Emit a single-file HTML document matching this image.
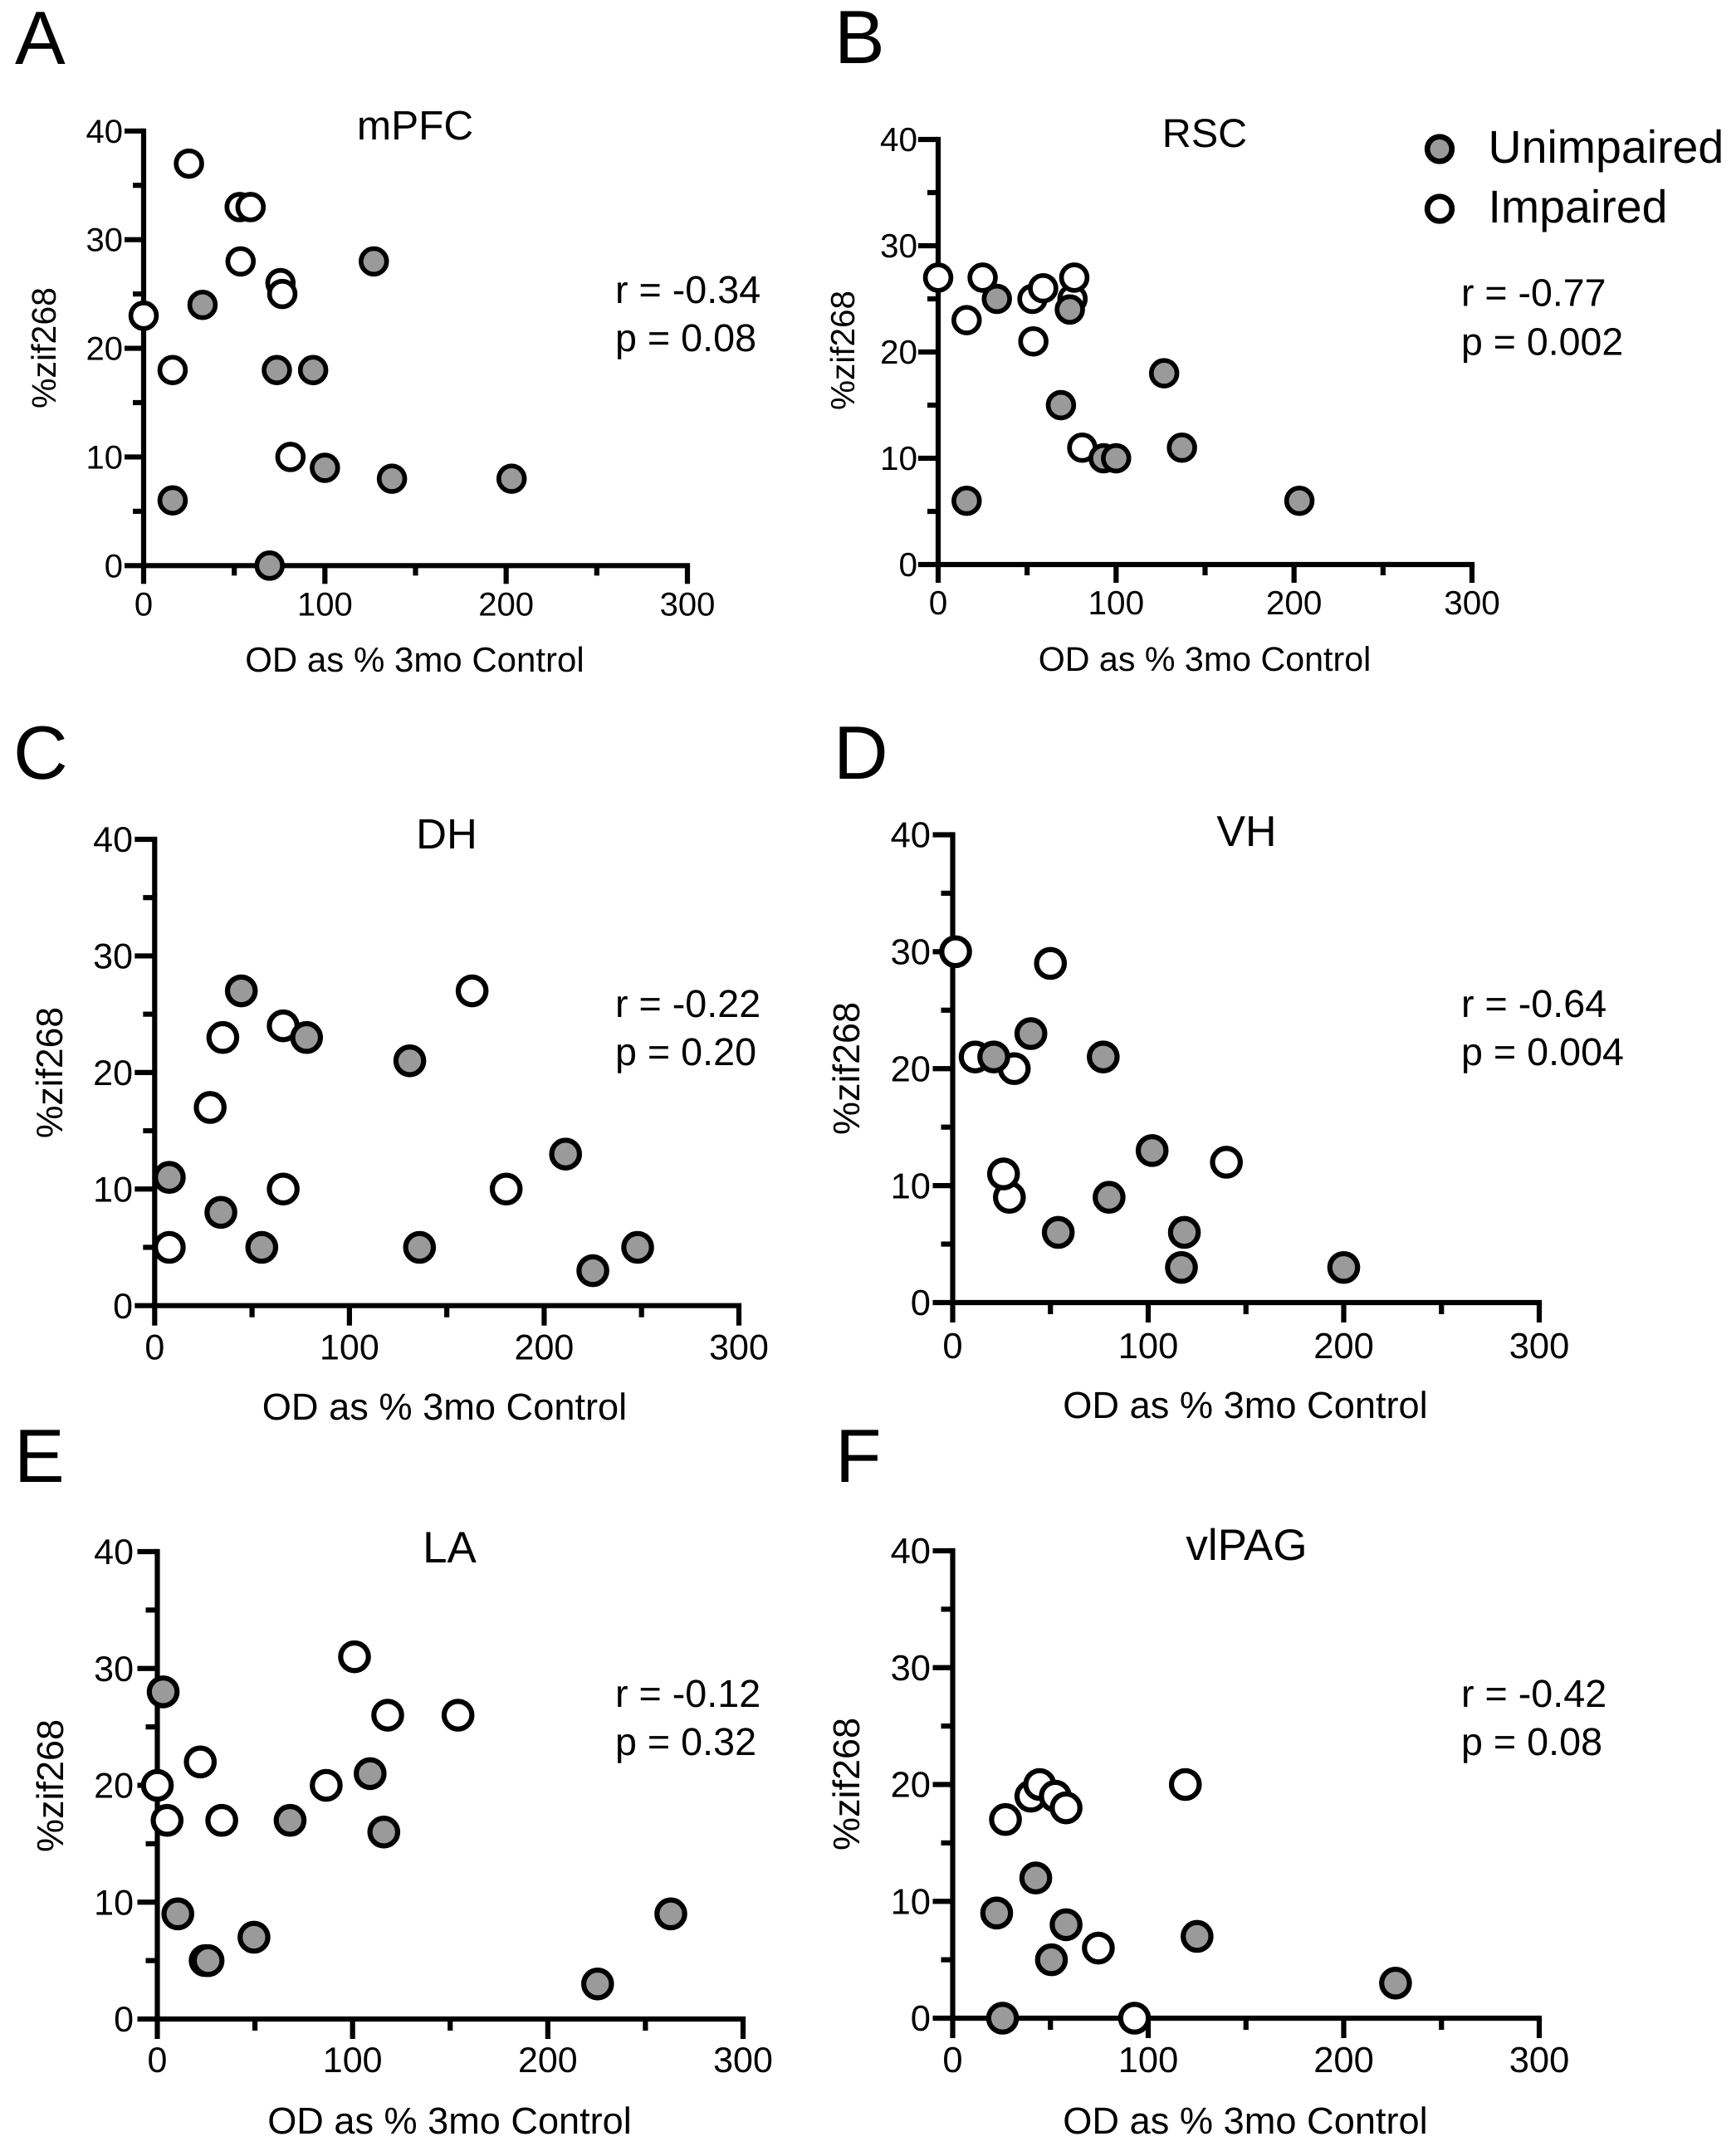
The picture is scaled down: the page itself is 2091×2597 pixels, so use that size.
<!DOCTYPE html>
<html lang="en">
<head>
<meta charset="utf-8">
<title>zif268 vs OD scatter panels</title>
<style>
html,body{margin:0;padding:0;background:#fff;}
svg{display:block;}
text{font-family:"Liberation Sans",Arial,sans-serif;fill:#000;text-rendering:geometricPrecision;}
</style>
</head>
<body>
<svg id="figure" xmlns="http://www.w3.org/2000/svg" width="2091" height="2597" viewBox="0 0 2091 2597">
<rect x="0" y="0" width="2091" height="2597" fill="#fff"/>

<g id="panel-a">
<text x="18" y="77" font-size="91">A</text>
<text x="500" y="168" font-size="49.5" text-anchor="middle">mPFC</text>
<text x="499.5" y="809" font-size="42" text-anchor="middle">OD as % 3mo Control</text>
<text transform="translate(67,419) rotate(-90)" font-size="41" text-anchor="middle">%zif268</text>
<text x="741" y="365" font-size="46.7">r = -0.34</text>
<text x="741" y="423" font-size="46.7">p = 0.08</text>
</g>

<g id="panel-b">
<text x="1005" y="76" font-size="91">B</text>
<text x="1451" y="177" font-size="48.5" text-anchor="middle">RSC</text>
<text x="1451" y="808" font-size="41.2" text-anchor="middle">OD as % 3mo Control</text>
<text transform="translate(1029,422) rotate(-90)" font-size="40.5" text-anchor="middle">%zif268</text>
<text x="1760" y="368.5" font-size="46.5">r = -0.77</text>
<text x="1760" y="427.5" font-size="46.5">p = 0.002</text>
</g>

<g id="panel-c">
<text x="16" y="938" font-size="91">C</text>
<text x="538" y="1022" font-size="51" text-anchor="middle">DH</text>
<text x="535.5" y="1710" font-size="45.2" text-anchor="middle">OD as % 3mo Control</text>
<text transform="translate(75,1292) rotate(-90)" font-size="44.5" text-anchor="middle">%zif268</text>
<text x="741" y="1225" font-size="46.7">r = -0.22</text>
<text x="741" y="1283" font-size="46.7">p = 0.20</text>
</g>

<g id="panel-d">
<text x="1004" y="938" font-size="91">D</text>
<text x="1501.5" y="1019" font-size="52" text-anchor="middle">VH</text>
<text x="1500" y="1708" font-size="45.2" text-anchor="middle">OD as % 3mo Control</text>
<text transform="translate(1035,1287) rotate(-90)" font-size="45" text-anchor="middle">%zif268</text>
<text x="1760" y="1225" font-size="46.7">r = -0.64</text>
<text x="1760" y="1283" font-size="46.7">p = 0.004</text>
</g>

<g id="panel-e">
<text x="17" y="1785" font-size="91">E</text>
<text x="541.5" y="1882" font-size="53" text-anchor="middle">LA</text>
<text x="541.5" y="2570" font-size="45.1" text-anchor="middle">OD as % 3mo Control</text>
<text transform="translate(76,2151) rotate(-90)" font-size="45" text-anchor="middle">%zif268</text>
<text x="741" y="2056" font-size="46.7">r = -0.12</text>
<text x="741" y="2114" font-size="46.7">p = 0.32</text>
</g>

<g id="panel-f">
<text x="1006" y="1785" font-size="91">F</text>
<text x="1501.5" y="1879" font-size="53" text-anchor="middle">vlPAG</text>
<text x="1500" y="2570" font-size="45.2" text-anchor="middle">OD as % 3mo Control</text>
<text transform="translate(1035,2149) rotate(-90)" font-size="45" text-anchor="middle">%zif268</text>
<text x="1760" y="2056" font-size="46.7">r = -0.42</text>
<text x="1760" y="2114" font-size="46.7">p = 0.08</text>
</g>

<g id="legend">
<circle cx="1734" cy="179.5" r="14.8" fill="#9a9a9a" stroke="#000" stroke-width="6.7"/>
<text x="1792.5" y="196" font-size="55.5">Unimpaired</text>
<circle cx="1734" cy="251.5" r="14.8" fill="#fff" stroke="#000" stroke-width="6.7"/>
<text x="1792.5" y="268" font-size="55.5">Impaired</text>
</g>
</svg>

<script>
// Axis values shared by all panels
const xMajorTicks = [0, 100, 200, 300];
const xMinorTicks = [50, 150, 250];
const yMajorTicks = [0, 10, 20, 30, 40];
const yMinorTicks = [5, 15, 25, 35];
const xMax = 300;
const yMax = 40;

// Panel A: mPFC
const mpfcUnimpairedX = [16, 32.5, 69.5, 73.5, 93.5, 100, 127, 137, 203];
const mpfcUnimpairedY = [6, 24, 0, 18, 18, 9, 28, 8, 8];
const mpfcImpairedX = [0, 16, 25, 53, 59, 53.5, 75.5, 76.5, 81];
const mpfcImpairedY = [23, 18, 37, 33, 33, 28, 26, 25, 10];

// Panel B: RSC
const rscUnimpairedX = [16, 33, 74, 69, 127, 137, 93, 100, 203];
const rscUnimpairedY = [6, 25, 24, 15, 18, 11, 10, 10, 6];
const rscImpairedX = [0, 25, 16, 53, 59, 53.5, 75.5, 76.5, 81];
const rscImpairedY = [27, 27, 23, 25, 26, 21, 25, 27, 11];

// Panel C: DH
const dhUnimpairedX = [7.5, 34, 55, 44.5, 78, 131, 136, 211, 225, 248];
const dhUnimpairedY = [11, 8, 5, 27, 23, 21, 5, 13, 3, 5];
const dhImpairedX = [7.5, 28.5, 35, 66, 66, 163, 180.5];
const dhImpairedY = [5, 17, 23, 24, 10, 27, 10];

// Panel D: VH
const vhUnimpairedX = [21, 40, 77, 54, 80, 102, 118.5, 117, 200];
const vhUnimpairedY = [21, 23, 21, 6, 9, 13, 6, 3, 3];
const vhImpairedX = [1.5, 11.5, 31.5, 50, 29, 26, 140];
const vhImpairedY = [30, 21, 20, 29, 9, 11, 12];

// Panel E: LA
const laUnimpairedX = [3, 10.5, 24.5, 26, 49.5, 68, 109, 116, 225.5, 263];
const laUnimpairedY = [28, 9, 5, 5, 7, 17, 21, 16, 3, 9];
const laImpairedX = [0, 5, 22, 33, 86.5, 101, 118, 154];
const laImpairedY = [20, 17, 22, 17, 20, 31, 26, 26];

// Panel F: vlPAG
const vlpagUnimpairedX = [22.5, 25.5, 42.5, 50.5, 58, 125, 226.5];
const vlpagUnimpairedY = [9, 0, 12, 5, 8, 7, 3];
const vlpagImpairedX = [27, 40, 44.5, 52.5, 58, 74.5, 93, 119];
const vlpagImpairedY = [17, 19, 20, 19, 18, 6, 0, 20];

const SVG_NS = 'http://www.w3.org/2000/svg';

function mk(parent, tag, attrs) {
  const el = document.createElementNS(SVG_NS, tag);
  Object.keys(attrs).forEach(function (k) { el.setAttribute(k, attrs[k]); });
  parent.appendChild(el);
  return el;
}

function drawPanel(p) {
  const root = document.getElementById(p.id);
  const sx = function (v) { return p.x0 + (v / xMax) * (p.x1 - p.x0); };
  const sy = function (v) { return p.y0 + (v / yMax) * (p.y1 - p.y0); };

  const axes = mk(root, 'g', { stroke: '#000', 'stroke-width': p.sw, 'stroke-linecap': 'square', fill: 'none' });
  
  

  const xAxis = mk(axes, 'line', { x1: p.x0, y1: p.y0, x2: p.x1, y2: p.y0 });
  
  

  const yAxis = mk(axes, 'line', { x1: p.x0, y1: p.y0, x2: p.x0, y2: p.y1 });
  
  

  xMajorTicks.forEach(function (v) {
    const t = mk(axes, 'line', { x1: sx(v), y1: p.y0, x2: sx(v), y2: p.y0 + p.xMajor, 'stroke-linecap': 'butt' });
    
    
    const lab = mk(root, 'text', { x: sx(v), y: p.y0 + p.xLabelDy, 'font-size': p.fs, 'text-anchor': 'middle' });
    lab.textContent = String(v);
    
    
  });

  xMinorTicks.forEach(function (v) {
    const t = mk(axes, 'line', { x1: sx(v), y1: p.y0, x2: sx(v), y2: p.y0 + p.xMinor, 'stroke-linecap': 'butt' });
    
    
  });

  yMajorTicks.forEach(function (v) {
    const t = mk(axes, 'line', { x1: p.x0, y1: sy(v), x2: p.x0 - p.yMajor, y2: sy(v), 'stroke-linecap': 'butt' });
    
    
    const lab = mk(root, 'text', { x: p.yLabelX, y: sy(v) + p.fs * 0.35, 'font-size': p.fs, 'text-anchor': 'end' });
    lab.textContent = String(v);
    
    
  });

  yMinorTicks.forEach(function (v) {
    const t = mk(axes, 'line', { x1: p.x0, y1: sy(v), x2: p.x0 - p.yMinor, y2: sy(v), 'stroke-linecap': 'butt' });
    
    
  });

  p.impairedX.forEach(function (v, i) {
    const c = mk(root, 'circle', { cx: sx(v), cy: sy(p.impairedY[i]), r: p.r, fill: '#fff', stroke: '#000', 'stroke-width': p.msw });
    
    
  });

  p.unimpairedX.forEach(function (v, i) {
    const c = mk(root, 'circle', { cx: sx(v), cy: sy(p.unimpairedY[i]), r: p.r, fill: '#9a9a9a', stroke: '#000', 'stroke-width': p.msw });
    
    
  });
}

drawPanel({ id: 'panel-a', x0: 173, x1: 828, y0: 681.3, y1: 157.8, sw: 6.2, fs: 40, r: 15.4, msw: 5.7, xMajor: 22, xMinor: 12, yMajor: 23, yMinor: 13, xLabelDy: 60, yLabelX: 148,
  unimpairedX: mpfcUnimpairedX, unimpairedY: mpfcUnimpairedY, impairedX: mpfcImpairedX, impairedY: mpfcImpairedY });
drawPanel({ id: 'panel-b', x0: 1130, x1: 1773, y0: 680, y1: 168, sw: 6.2, fs: 40.5, r: 15.4, msw: 5.7, xMajor: 22, xMinor: 13, yMajor: 24, yMinor: 13, xLabelDy: 60, yLabelX: 1105,
  unimpairedX: rscUnimpairedX, unimpairedY: rscUnimpairedY, impairedX: rscImpairedX, impairedY: rscImpairedY });
drawPanel({ id: 'panel-c', x0: 186.3, x1: 890, y0: 1572.7, y1: 1011, sw: 6.2, fs: 43, r: 16.7, msw: 6.2, xMajor: 24, xMinor: 14, yMajor: 24, yMinor: 14, xLabelDy: 65, yLabelX: 160,
  unimpairedX: dhUnimpairedX, unimpairedY: dhUnimpairedY, impairedX: dhImpairedX, impairedY: dhImpairedY });
drawPanel({ id: 'panel-d', x0: 1147.5, x1: 1854, y0: 1569, y1: 1005.5, sw: 6.2, fs: 43.5, r: 16.7, msw: 6.2, xMajor: 24, xMinor: 14, yMajor: 24, yMinor: 14, xLabelDy: 67, yLabelX: 1121,
  unimpairedX: vhUnimpairedX, unimpairedY: vhUnimpairedY, impairedX: vhImpairedX, impairedY: vhImpairedY });
drawPanel({ id: 'panel-e', x0: 189.5, x1: 895, y0: 2432, y1: 1869, sw: 6.2, fs: 43, r: 16.7, msw: 6.2, xMajor: 24, xMinor: 14, yMajor: 24, yMinor: 14, xLabelDy: 64, yLabelX: 161,
  unimpairedX: laUnimpairedX, unimpairedY: laUnimpairedY, impairedX: laImpairedX, impairedY: laImpairedY });
drawPanel({ id: 'panel-f', x0: 1147.5, x1: 1854, y0: 2431, y1: 1868, sw: 6.2, fs: 43.5, r: 16.7, msw: 6.2, xMajor: 24, xMinor: 14, yMajor: 24, yMinor: 14, xLabelDy: 65, yLabelX: 1121,
  unimpairedX: vlpagUnimpairedX, unimpairedY: vlpagUnimpairedY, impairedX: vlpagImpairedX, impairedY: vlpagImpairedY });
</script>
</body>
</html>
